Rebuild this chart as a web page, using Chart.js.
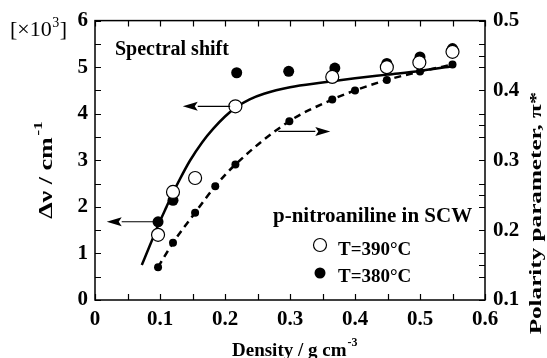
<!DOCTYPE html>
<html><head><meta charset="utf-8">
<script src="https://cdn.jsdelivr.net/npm/chart.js@4/dist/chart.umd.min.js"></script>
<style>html,body{margin:0;padding:0;background:#fff;}#wrap{width:547px;height:358px;}</style>
</head><body><div id="wrap"><canvas id="c" width="547" height="358"></canvas></div>
<script>
// ---- data ----
const density390 = [0.097, 0.12, 0.154, 0.216, 0.365, 0.449, 0.499, 0.55];
const shift390   = [1.40, 2.32, 2.62, 4.16, 4.79, 5.00, 5.10, 5.33];
const density380 = [0.097, 0.12, 0.218, 0.298, 0.369, 0.449, 0.50, 0.55];
const shift380   = [1.68, 2.14, 4.88, 4.91, 4.98, 5.08, 5.22, 5.40];
const densityPol = [0.097, 0.12, 0.154, 0.185, 0.216, 0.299, 0.365, 0.40, 0.449, 0.50, 0.55];
const polarity   = [0.147, 0.182, 0.225, 0.263, 0.294, 0.356, 0.387, 0.40, 0.415, 0.427, 0.437];
const fitDensity = [0.072, 0.085, 0.097, 0.11, 0.12, 0.13, 0.146, 0.165, 0.182, 0.20, 0.216, 0.238, 0.26, 0.30, 0.35, 0.40, 0.45, 0.50, 0.55];
const fitShift   = [0.75, 1.19, 1.60, 2.00, 2.30, 2.58, 2.99, 3.39, 3.68, 3.94, 4.13, 4.31, 4.43, 4.57, 4.67, 4.76, 4.84, 4.92, 5.02];
const xTickLabels  = ['0', '0.1', '0.2', '0.3', '0.4', '0.5', '0.6'];
const yTickLabels  = ['0', '1', '2', '3', '4', '5', '6'];
const y2TickLabels = ['0.1', '0.2', '0.3', '0.4', '0.5'];
const legendLabels = ['T=390°C', 'T=380°C'];
// arrows in data units (left axis): [x from, y from, x to, y to]
const arrowFrom390 = [0.208, 4.16, 0.135, 4.16];
const arrowFrom380 = [0.090, 1.68, 0.018, 1.68];
const arrowToPol   = [0.282, 3.62, 0.362, 3.62];

const SERIF = "'Liberation Serif', 'Times New Roman', serif";
const zip = (xs, ys) => xs.map((x, i) => ({x: x, y: ys[i]}));

function drawArrow(ctx, sx, sy, ex, ey) {
  const ang = Math.atan2(ey - sy, ex - sx);
  const hl = 15, hw = 4.5;
  ctx.save();
  ctx.strokeStyle = '#000'; ctx.fillStyle = '#000'; ctx.lineWidth = 1.2;
  ctx.beginPath();
  ctx.moveTo(sx, sy);
  ctx.lineTo(ex - hl * Math.cos(ang), ey - hl * Math.sin(ang));
  ctx.stroke();
  ctx.beginPath();
  ctx.moveTo(ex, ey);
  ctx.lineTo(ex - hl * Math.cos(ang) - hw * Math.sin(ang), ey - hl * Math.sin(ang) + hw * Math.cos(ang));
  ctx.lineTo(ex - hl * 0.8 * Math.cos(ang), ey - hl * 0.8 * Math.sin(ang));
  ctx.lineTo(ex - hl * Math.cos(ang) + hw * Math.sin(ang), ey - hl * Math.sin(ang) - hw * Math.cos(ang));
  ctx.closePath();
  ctx.fill();
  ctx.restore();
}

function drawRotated(ctx, cx, cy, parts, stretch) {
  ctx.save();
  ctx.translate(cx, cy);
  ctx.rotate(-Math.PI / 2);
  ctx.scale(stretch, 1);
  let total = 0;
  parts.forEach(p => { ctx.font = 'bold ' + p.size + 'px ' + SERIF; p.w = ctx.measureText(p.text).width; total += p.w + (p.gap || 0); });
  let x = -total / 2;
  parts.forEach(p => { ctx.font = 'bold ' + p.size + 'px ' + SERIF; x += (p.gap || 0); ctx.fillText(p.text, x, p.dy || 0); x += p.w; });
  ctx.restore();
}

const decor = {
  id: 'decor',
  afterDraw(chart) {
    const ctx = chart.ctx;
    const xs = chart.scales.x, ys = chart.scales.y, y2 = chart.scales.y2;
    const a = chart.chartArea;
    ctx.save();
    // frame
    ctx.strokeStyle = '#000';
    ctx.lineWidth = 1.5;
    ctx.strokeRect(a.left, a.top, a.right - a.left, a.bottom - a.top);
    // inward ticks
    ctx.lineWidth = 1.2;
    ctx.beginPath();
    const tl = 6;
    for (let i = 0; i <= 12; i++) {
      const px = Math.round(xs.getPixelForValue(i * 0.05)) + 0.5;
      ctx.moveTo(px, a.bottom); ctx.lineTo(px, a.bottom - tl);
      ctx.moveTo(px, a.top); ctx.lineTo(px, a.top + tl);
    }
    for (let i = 0; i <= 12; i++) {
      const py = Math.round(ys.getPixelForValue(i * 0.5)) + 0.5;
      ctx.moveTo(a.left, py); ctx.lineTo(a.left + tl, py);
      ctx.moveTo(a.right, py); ctx.lineTo(a.right - tl, py);
    }
    for (let i = 0; i <= 8; i++) {
      const py = Math.round(y2.getPixelForValue(0.1 + i * 0.05)) + 0.5;
      ctx.moveTo(a.right, py); ctx.lineTo(a.right - tl, py);
    }
    ctx.stroke();

    // arrows
    const arr = (d, sc) => drawArrow(ctx, xs.getPixelForValue(d[0]), sc.getPixelForValue(d[1]), xs.getPixelForValue(d[2]), sc.getPixelForValue(d[3]));
    arr(arrowFrom390, ys);
    arr(arrowFrom380, ys);
    arr(arrowToPol, ys);

    // annotation texts
    ctx.fillStyle = '#000';
    ctx.textBaseline = 'alphabetic';
    ctx.textAlign = 'left';
    ctx.font = 'bold 20px ' + SERIF;
    ctx.fillText('Spectral shift', 115, 55);
    ctx.font = 'bold 21px ' + SERIF;
    ctx.fillText('p-nitroaniline in SCW', 273, 222);

    // multiplier
    ctx.font = '22px ' + SERIF;
    let x0 = 10;
    ctx.fillText('[×10', x0, 36);
    x0 += ctx.measureText('[×10').width;
    ctx.font = '14px ' + SERIF;
    ctx.fillText('3', x0 + 0.5, 27);
    x0 += ctx.measureText('3').width + 1;
    ctx.font = '22px ' + SERIF;
    ctx.fillText(']', x0, 36);

    // legend
    ctx.lineWidth = 1.2;
    ctx.beginPath(); ctx.arc(320, 245, 6.5, 0, Math.PI * 2);
    ctx.fillStyle = '#fff'; ctx.fill(); ctx.strokeStyle = '#000'; ctx.stroke();
    ctx.beginPath(); ctx.arc(320, 273, 5.5, 0, Math.PI * 2);
    ctx.fillStyle = '#000'; ctx.fill();
    ctx.font = 'bold 19px ' + SERIF;
    ctx.fillText(legendLabels[0], 338, 255);
    ctx.fillText(legendLabels[1], 338, 282);

    // x title
    ctx.font = 'bold 19px ' + SERIF;
    const xt = 'Density / g cm';
    ctx.fillText(xt, 232, 356);
    const xw = ctx.measureText(xt).width;
    ctx.font = 'bold 12px ' + SERIF;
    ctx.fillText('-3', 232 + xw + 1, 346);

    // left title
    drawRotated(ctx, 52, 170, [
      {text: 'Δν / cm', size: 18, dy: 0},
      {text: '-1', size: 12, dy: -10, gap: 1}
    ], 1.45);

    // right title
    drawRotated(ctx, 541, 213, [
      {text: 'Polarity parameter, π*', size: 17, dy: 0}
    ], 1.48);

    ctx.restore();
  }
};

const tickFont = {family: SERIF, size: 21, weight: 'bold'};

new Chart(document.getElementById('c'), {
  type: 'scatter',
  data: {
    datasets: [
      {label: legendLabels[0], data: zip(density390, shift390), yAxisID: 'y', showLine: false,
       pointRadius: 6.5, pointBackgroundColor: '#fff', pointBorderColor: '#000', pointBorderWidth: 1.2, order: 0},
      {label: legendLabels[1], data: zip(density380, shift380), yAxisID: 'y', showLine: false,
       pointRadius: 5.5, pointBackgroundColor: '#000', pointBorderColor: '#000', pointBorderWidth: 0, order: 1},
      {label: 'polarity', data: zip(densityPol, polarity), yAxisID: 'y2', showLine: true,
       borderColor: '#000', borderWidth: 2.5, borderDash: [7, 5], cubicInterpolationMode: 'monotone',
       pointRadius: 4, pointBackgroundColor: '#000', pointBorderColor: '#000', pointBorderWidth: 0, order: 2},
      {label: 'fit', data: zip(fitDensity, fitShift), yAxisID: 'y', showLine: true,
       borderColor: '#000', borderWidth: 2.5, cubicInterpolationMode: 'monotone', pointRadius: 0, order: 3}
    ]
  },
  options: {
    responsive: false,
    animation: false,
    devicePixelRatio: 1,
    layout: {padding: {top: 20, left: 0, right: 0, bottom: 0}},
    plugins: {legend: {display: false}, tooltip: {enabled: false}},
    scales: {
      x: {type: 'linear', position: 'bottom', min: 0, max: 0.6,
          ticks: {stepSize: 0.1, autoSkip: false, maxRotation: 0, padding: 7, color: '#000', font: tickFont,
                  callback: (v, i) => xTickLabels[i]},
          grid: {display: false, drawTicks: false}, border: {display: false},
          afterFit: s => { s.height = 58; }},
      y: {type: 'linear', position: 'left', min: 0, max: 6,
          ticks: {stepSize: 1, padding: 7, color: '#000', font: tickFont, callback: (v, i) => yTickLabels[i]},
          grid: {display: false, drawTicks: false}, border: {display: false},
          afterFit: s => { s.width = 95; }},
      y2: {type: 'linear', position: 'right', min: 0.1, max: 0.5,
          ticks: {stepSize: 0.1, padding: 8, color: '#000', font: tickFont, callback: (v, i) => y2TickLabels[i]},
          grid: {display: false, drawTicks: false}, border: {display: false},
          afterFit: s => { s.width = 62; }}
    }
  },
  plugins: [decor]
});
</script>
</body></html>
